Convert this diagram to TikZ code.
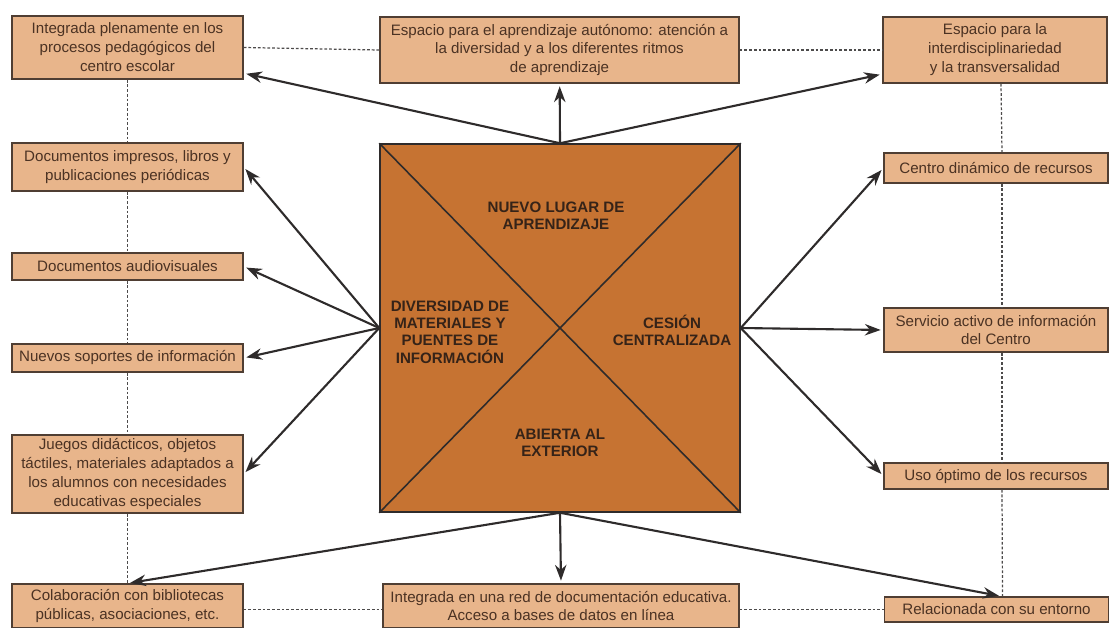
\documentclass[tikz,border=0pt]{standalone}
\usepackage{xcolor}
\usepackage{fontspec}
\setmainfont{Liberation Sans}
\usepackage{tikz}
\usetikzlibrary{arrows.meta}

\definecolor{cajafondo}{HTML}{E8B58B}
\definecolor{cajaborde}{HTML}{4F3E33}
\definecolor{cuadrofondo}{HTML}{C67332}
\definecolor{textomarron}{HTML}{4B3223}
\definecolor{flechagris}{HTML}{2E2B2B}

\begin{document}
\begin{tikzpicture}[x=0.02cm, y=-0.02cm,
    caja/.style={draw=cajaborde, fill=cajafondo, line width=0.8pt, text=textomarron,
      font=\fontsize{8.6}{10.8}\selectfont, align=center, inner sep=1pt, minimum width=4.62cm},
    derecha/.style={caja, minimum width=4.48cm},
    cuadrante/.style={font=\bfseries\fontsize{8.6}{9.8}\selectfont, align=center, text=textomarron!70!black},
    flecha/.style={draw=flechagris, line width=1.2pt, shorten >=1.5pt, -{Stealth[length=9pt,width=6.5pt]}},
    guia/.style={draw=flechagris!85, line width=0.7pt, dash pattern=on 1.6pt off 1.1pt}]
  \useasboundingbox (0,0) rectangle (1111,628);

  % Central square
  \node[draw=flechagris, fill=cuadrofondo, line width=0.9pt, minimum width=7.2cm, minimum height=7.36cm] (biblio) at (560,328) {};
  \draw[flechagris, line width=0.9pt] (biblio.north west) -- (biblio.south east);
  \draw[flechagris, line width=0.9pt] (biblio.north east) -- (biblio.south west);
  \node[cuadrante] (lugar) at (556,216) {NUEVO LUGAR DE\\APRENDIZAJE};
  \node[cuadrante] (diversidad) at (450,332) {DIVERSIDAD DE\\MATERIALES Y\\PUENTES DE\\INFORMACIÓN};
  \node[cuadrante] (cesion) at (672,330) {CESIÓN\\CENTRALIZADA};
  \node[cuadrante] (abierta) at (560,443) {ABIERTA AL\\EXTERIOR};

  % Top row
  \node[caja, minimum height=1.26cm] (plenamente) at (127.5,47.5) {Integrada plenamente en los\\procesos pedagógicos del\\centro escolar};
  \node[caja, minimum width=7.18cm, minimum height=1.32cm] (autonomo) at (559.5,50) {Espacio para el aprendizaje autónomo: atención a\\la diversidad y a los diferentes ritmos\\de aprendizaje};
  \node[derecha, minimum height=1.32cm] (interdisc) at (995,50) {Espacio para la\\interdisciplinariedad\\y la transversalidad};

  % Left column
  \node[caja, minimum height=0.96cm] (impresos) at (127.5,167) {Documentos impresos, libros y\\publicaciones periódicas};
  \node[caja, minimum height=0.54cm] (audiovis) at (127.5,266.5) {Documentos audiovisuales};
  \node[caja, minimum height=0.56cm] (soportes) at (127.5,358) {Nuevos soportes de información};
  \node[caja, minimum height=1.56cm] (juegos) at (127.5,474) {Juegos didácticos, objetos\\táctiles, materiales adaptados a\\los alumnos con necesidades\\educativas especiales};

  % Right column
  \node[derecha, minimum height=0.6cm] (dinamico) at (996,168) {Centro dinámico de recursos};
  \node[derecha, minimum height=0.88cm] (servicio) at (996,330) {Servicio activo de información\\del Centro};
  \node[derecha, minimum height=0.52cm] (optimo) at (996,476) {Uso óptimo de los recursos};

  % Bottom row
  \node[caja, minimum height=0.88cm] (bibliotecas) at (127.5,606) {Colaboración con bibliotecas\\públicas, asociaciones, etc.};
  \node[caja, minimum width=7.12cm, minimum height=0.88cm] (red) at (561,606) {Integrada en una red de documentación educativa.\\Acceso a bases de datos en línea};
  \node[derecha, minimum height=0.5cm] (entorno) at (996.5,609.5) {Relacionada con su entorno};

  % Dotted frame
  \draw[guia] (plenamente.east) -- (autonomo.west);
  \draw[guia] (autonomo.east) -- (interdisc.west);
  \draw[guia] (bibliotecas.east |- entorno.west) -- (red.west |- entorno.west);
  \draw[guia] (red.east |- entorno.west) -- (entorno.west);
  \foreach \a/\b in {plenamente/impresos, impresos/audiovis, audiovis/soportes, soportes/juegos, juegos/bibliotecas}
    \draw[guia] (\a.south) -- (\b.north);
  \foreach \a/\b in {interdisc/dinamico, dinamico/servicio, servicio/optimo, optimo/entorno}
    \draw[guia] ([xshift=0.12cm]\a.south) -- ([xshift=0.12cm]\b.north);

  % Arrows
  \draw[flecha] (biblio.north) -- (plenamente);
  \draw[flecha] (biblio.north) -- (autonomo);
  \draw[flecha] (biblio.north) -- (interdisc);
  \foreach \dest in {impresos, audiovis, soportes, juegos}
    \draw[flecha] (biblio.west) -- (\dest.east);
  \foreach \dest in {dinamico, servicio, optimo}
    \draw[flecha] (biblio.east) -- (\dest.west);
  \draw[flecha] (biblio.south) -- (bibliotecas.north);
  \draw[flecha] (biblio.south) -- (red.north);
  \draw[flecha] (biblio.south) -- ([xshift=0.1cm]entorno.north);
\end{tikzpicture}
\end{document}
